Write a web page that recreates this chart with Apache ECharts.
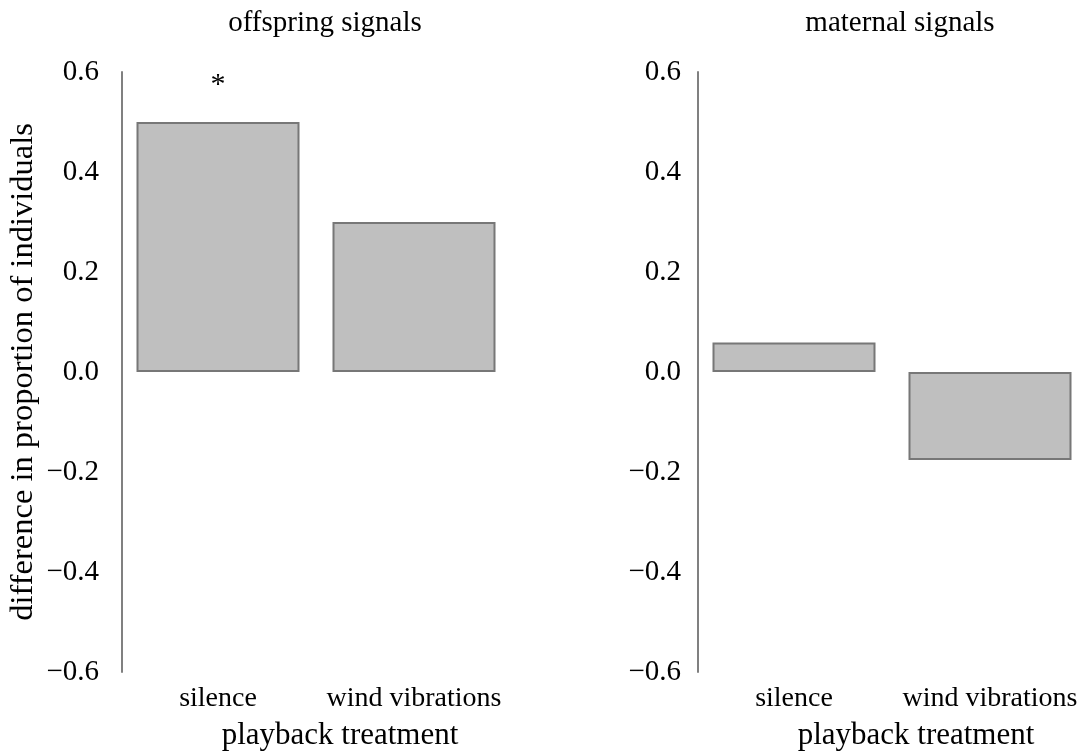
<!DOCTYPE html>
<html>
<head>
<meta charset="utf-8">
<script src="https://cdn.jsdelivr.net/npm/echarts@6/dist/echarts.min.js"></script>
<style>
  html, body { margin: 0; padding: 0; background: #ffffff; }
  #chart { width: 1089px; height: 751px; }
</style>
</head>
<body>
<div id="chart"></div>
<script>
// Playback treatments (shared by both panels)
const categories = ['silence', 'wind vibrations'];

// Difference in proportion of individuals responding
const offspringValues = [0.5, 0.3];
const maternalValues = [0.059, -0.176];

// Significance markers drawn above the bars
const offspringSig = ['*', ''];
const maternalSig = ['', ''];

const panelTitles = ['offspring signals', 'maternal signals'];
const yTicks = { min: -0.6, max: 0.6, interval: 0.2 };

const FONT = '"Liberation Serif", "DejaVu Serif", serif';
const AXIS_GREY = '#808080';

const fmtTick = v => (v < 0 ? '\u2212' : '') + Math.abs(v).toFixed(1);

const chart = echarts.init(document.getElementById('chart'), null, { renderer: 'canvas' });

const grids = [
  { left: 120, top: 72, width: 392, height: 600, outerBoundsMode: 'none', containLabel: false },
  { left: 696, top: 72, width: 392, height: 600, outerBoundsMode: 'none', containLabel: false }
];

function xAxisFor(i) {
  return {
    type: 'category',
    gridIndex: i,
    data: categories,
    position: 'bottom',
    axisLine: { show: false, onZero: false },
    axisTick: { show: false },
    axisLabel: { interval: 0, color: '#000', fontFamily: FONT, fontSize: 28, margin: 13 },
    name: 'playback treatment',
    nameLocation: 'middle',
    nameGap: 48,
    nameTextStyle: { color: '#000', fontFamily: FONT, fontSize: 31, padding: [0, 0, 0, 48] }
  };
}

function yAxisFor(i) {
  const ax = {
    type: 'value',
    gridIndex: i,
    min: yTicks.min,
    max: yTicks.max,
    interval: yTicks.interval,
    offset: -2,
    axisLine: { show: true, lineStyle: { color: AXIS_GREY, width: 2 } },
    axisTick: { show: false },
    splitLine: { show: false },
    axisLabel: {
      color: '#000', fontFamily: FONT, fontSize: 29,
      margin: i === 0 ? 23 : 17,
      formatter: fmtTick
    }
  };
  if (i === 0) {
    ax.name = 'difference in proportion of individuals';
    ax.nameLocation = 'middle';
    ax.nameGap = 82;
    ax.nameTextStyle = { color: '#000', fontFamily: FONT, fontSize: 32.5 };
  }
  return ax;
}

function barSeries(i, values, sig) {
  return {
    type: 'bar',
    xAxisIndex: i,
    yAxisIndex: i,
    barWidth: 163,
    data: values.map((v, k) => ({
      value: v,
      label: {
        show: sig[k] !== '',
        position: 'top',
        distance: 22,
        formatter: sig[k],
        color: '#000',
        fontFamily: FONT,
        fontSize: 30
      }
    })),
    itemStyle: { color: '#bfbfbf', borderColor: '#777777', borderWidth: 2 },
    emphasis: { disabled: true },
    animation: false
  };
}

chart.setOption({
  backgroundColor: '#ffffff',
  animation: false,
  title: [
    { text: panelTitles[0], left: 320, top: 4, textAlign: 'center',
      textStyle: { color: '#000', fontFamily: FONT, fontSize: 29, fontWeight: 'normal' } },
    { text: panelTitles[1], left: 895, top: 4, textAlign: 'center',
      textStyle: { color: '#000', fontFamily: FONT, fontSize: 29, fontWeight: 'normal' } }
  ],
  grid: grids,
  xAxis: [xAxisFor(0), xAxisFor(1)],
  yAxis: [yAxisFor(0), yAxisFor(1)],
  series: [
    barSeries(0, offspringValues, offspringSig),
    barSeries(1, maternalValues, maternalSig)
  ]
});
</script>
</body>
</html>
